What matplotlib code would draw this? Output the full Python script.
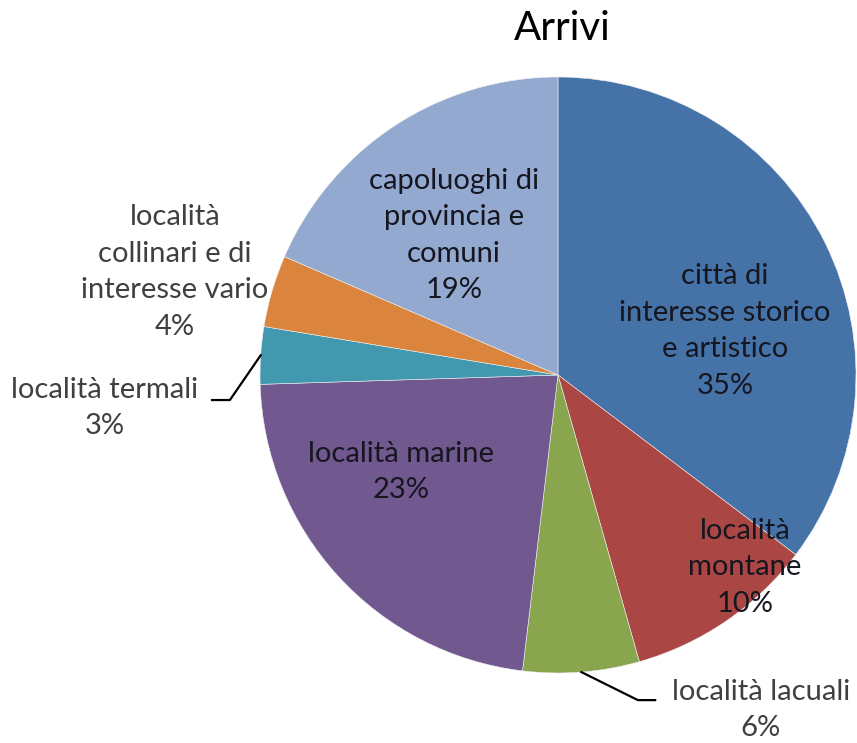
import matplotlib
matplotlib.use("Agg")
import matplotlib.pyplot as plt
import numpy as np

# data (share of arrivals, %) - labels show rounded values
categorie = ["città di\ninteresse storico\ne artistico",
             "località\nmontane",
             "località lacuali",
             "località marine",
             "località termali",
             "località\ncollinari e di\ninteresse vario",
             "capoluoghi di\nprovincia e\ncomuni"]
valori = [35.3, 10.3, 6.3, 22.6, 3.1, 3.9, 18.5]
colori = ["#4572A7", "#AA4643", "#89A54E", "#71588F", "#4198AF", "#DB843D", "#93A9CF"]

# label placement (pie radius units) and whether the label sits inside the slice
label_pos = [(0.56, 0.148), (0.628, -0.645), (0.68, -1.125), (-0.526, -0.326),
             (-1.52, -0.11), (-1.285, 0.345), (-0.35, 0.468)]
dentro = [True, True, False, True, False, False, True]

plt.rcParams['font.family'] = ['Lato', 'DejaVu Sans']

fig = plt.figure(figsize=(8.57, 7.43), dpi=100)
# pie area: centre ~(558,375) px, radius ~298 px
ax = fig.add_axes([260 / 857, 70 / 743, 596 / 857, 596 / 743])
wedges, _ = ax.pie(valori, colors=colori, startangle=90, counterclock=False,
                   radius=1, wedgeprops=dict(linewidth=0.4, edgecolor="#f0f0f0"))
ax.set_xlim(-1, 1)
ax.set_ylim(-1, 1)
ax.set_aspect("equal")
ax.axis("off")

for cat, v, (x, y), d in zip(categorie, valori, label_pos, dentro):
    ax.text(x, y, "%s\n%d%%" % (cat, int(v + 0.5)), ha="center", va="center",
            fontsize=21, color="#161620" if d else "#404040",
            linespacing=1.5, clip_on=False)

# leader lines for the small slices
def leader(i, elbow, end):
    w = wedges[i]
    ang = np.deg2rad((w.theta1 + w.theta2) / 2)
    x0, y0 = np.cos(ang), np.sin(ang)
    ax.plot([x0, elbow[0], end[0]], [y0, elbow[1], end[1]],
            color="black", lw=1.6, clip_on=False)

leader(2, (0.268, -1.091), (0.326, -1.091))
leader(4, (-1.101, -0.084), (-1.161, -0.084))

fig.text(0.656, 0.962, "Arrivi", ha="center", va="center", fontsize=29, color="black")

fig.savefig("out.png", dpi=100)
